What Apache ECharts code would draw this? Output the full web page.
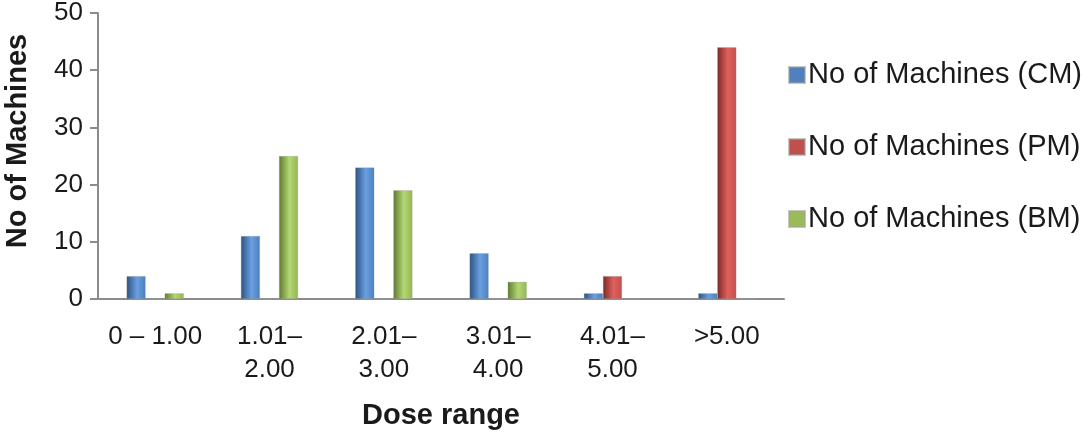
<!DOCTYPE html>
<html>
<head>
<meta charset="utf-8">
<script src="https://cdn.jsdelivr.net/npm/echarts@6/dist/echarts.min.js"></script>
<style>html,body{margin:0;padding:0;background:#fff}#c{width:1083px;height:435px}</style>
</head>
<body>
<div id="c"></div>
<script>
const categories = ['0 – 1.00', '1.01–\n2.00', '2.01–\n3.00', '3.01–\n4.00', '4.01–\n5.00', '>5.00'];
const seriesNames = ['No of Machines (CM)', 'No of Machines (PM)', 'No of Machines (BM)'];
const cmValues = [4, 11, 23, 8, 1, 1];
const pmValues = [0, 0, 0, 0, 4, 44];
const bmValues = [1, 25, 19, 3, 0, 0];
const yTicks = [0, 10, 20, 30, 40, 50];

const flat = ['#4F81BD', '#C0504D', '#9BBB59'];
const grads = [
  ['#2c5282', '#6a9fe0', '#4a7fc0'],
  ['#7a2a28', '#e0605c', '#c0504d'],
  ['#5d7a2e', '#b4d774', '#93b552']
];
function grad(i) {
  return new echarts.graphic.LinearGradient(0, 0, 1, 0, [
    {offset: 0, color: grads[i][0]},
    {offset: 0.55, color: grads[i][1]},
    {offset: 1, color: grads[i][2]}
  ]);
}
const font = 'Liberation Sans, Arial, sans-serif';
const chart = echarts.init(document.getElementById('c'), null, {renderer: 'canvas'});
const values = [cmValues, pmValues, bmValues];
chart.setOption({
  animation: false,
  textStyle: {fontFamily: font},
  grid: {left: 98, right: 299, top: 13, bottom: 136, containLabel: false, outerBoundsMode: 'none'},
  legend: {
    orient: 'vertical',
    left: 783,
    top: 54,
    itemWidth: 16,
    itemHeight: 16,
    itemGap: 40,
    icon: 'rect',
    textStyle: {fontSize: 29, lineHeight: 32, color: '#1a1a1a', fontFamily: font, padding: [0, 0, 0, -2]},
    data: seriesNames.map((n, i) => ({name: n, itemStyle: {color: flat[i]}}))
  },
  xAxis: {
    type: 'category',
    data: categories,
    name: 'Dose range',
    nameLocation: 'middle',
    nameGap: 102,
    nameTextStyle: {fontSize: 29, fontWeight: 'bold', color: '#1a1a1a', fontFamily: font},
    axisLine: {lineStyle: {color: '#8c8c8c', width: 2}},
    axisTick: {show: false},
    axisLabel: {fontSize: 26, color: '#1a1a1a', margin: 21, lineHeight: 33, interval: 0, fontFamily: font}
  },
  yAxis: {
    type: 'value',
    min: 0, max: 50, interval: 10,
    name: 'No of Machines',
    nameLocation: 'middle',
    nameGap: 66,
    nameTextStyle: {fontSize: 29, fontWeight: 'bold', color: '#1a1a1a', fontFamily: font, padding: [0, 0, 0, 30]},
    splitLine: {show: false},
    axisLine: {show: true, lineStyle: {color: '#8c8c8c', width: 2}},
    axisTick: {show: true, length: 8, lineStyle: {color: '#8c8c8c', width: 2}},
    axisLabel: {fontSize: 26, color: '#1a1a1a', margin: 15, fontFamily: font,
      formatter: v => yTicks.includes(v) ? String(v) : ''}
  },
  series: seriesNames.map((n, i) => ({
    name: n,
    type: 'bar',
    data: values[i],
    barGap: '0%',
    barCategoryGap: '50%',
    itemStyle: {color: grad(i), borderColor: 'rgba(160,160,160,0.6)', borderWidth: 0.5}
  }))
});
</script>
</body>
</html>
